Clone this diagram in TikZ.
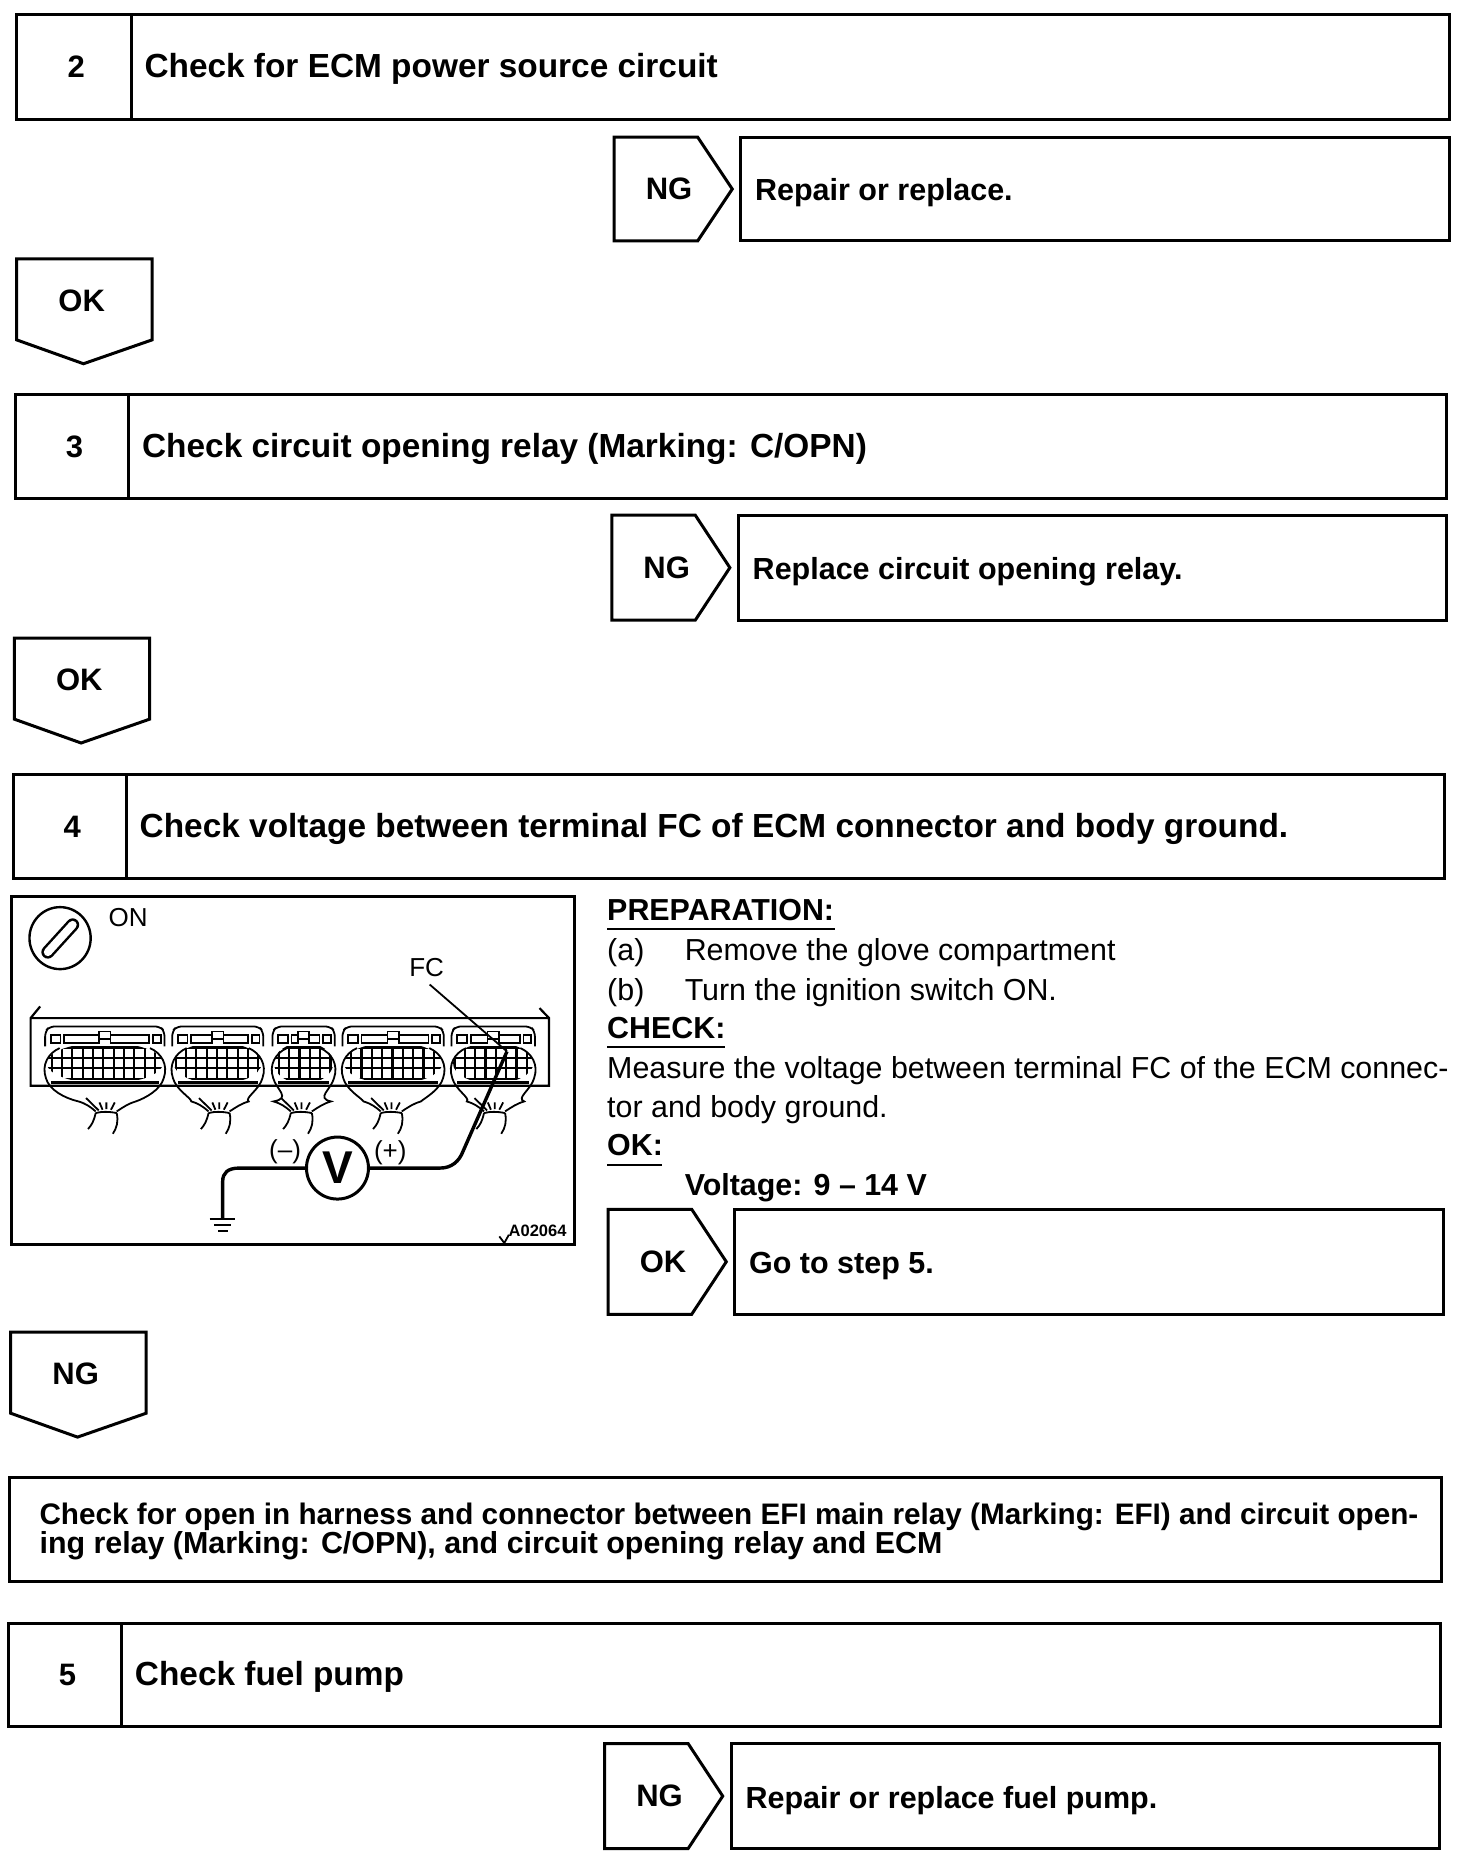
\documentclass[tikz,border=0pt]{standalone}
\usepackage{fontspec}
\setmainfont{Liberation Sans}
\tikzset{
  boxline/.style={draw=black,line width=3pt,line join=miter},
  head/.style={inner sep=0pt,anchor=base west,font=\fontsize{33.4pt}{35pt}\selectfont\bfseries},
  res/.style={inner sep=0pt,anchor=base west,font=\fontsize{30.5pt}{32pt}\selectfont\bfseries},
  longtext/.style={inner sep=0pt,anchor=base west,font=\fontsize{29.7pt}{32pt}\selectfont\bfseries},
  longtextb/.style={inner sep=0pt,anchor=base west,font=\fontsize{30.4pt}{32pt}\selectfont\bfseries},
  tag/.style={inner sep=0pt,anchor=base,font=\fontsize{31pt}{33pt}\selectfont\bfseries},
  body/.style={inner sep=0pt,anchor=base west,font=\fontsize{30.4pt}{32pt}\selectfont},
  bodyb/.style={inner sep=0pt,anchor=base west,font=\fontsize{30.4pt}{32pt}\selectfont\bfseries},
  rule/.style={draw=black,line width=1.8pt},
  figline/.style={draw=black,line width=1.8pt},
  figframe/.style={draw=black,line width=3pt},
  wire/.style={draw=black,line width=3.4pt,line join=round},
  figlabel/.style={inner sep=0pt,font=\fontsize{26pt}{28pt}\selectfont}
}
% numbered step box: name, x1, y1, x2, y2, divider, number, text
\newcommand\stepbox[8]{%
  \draw[boxline] (#2,#3) rectangle (#4,#5);
  \draw[boxline] (#6,#3) -- (#6,#5);
  \node[tag] (#1n) at ({(#2+#6)/2+2},{(#3+#5)/2+9}) {#7};
  \node[head] (#1t) at (#6+11,{(#3+#5)/2+9}) {#8};
}
% right arrow + result box: name, x1, y1, y2, label, text
\newcommand\rightres[6]{%
  \draw[boxline] (#2+70,#3) -- (#2,#3) -- (#2,#4) -- (#2+70,#4) -- (#2+99,{(#3+#4)/2}) -- cycle;
  \node[tag] (#1a) at (#2+46,{(#3+#4)/2+9}) {#5};
  \draw[boxline] (#2+106,#3) rectangle (#2+700,#4);
  \node[res] (#1t) at (#2+118,{(#3+#4)/2+10}) {#6};
}
% down arrow: name, x1, y1, label
\newcommand\downarrowbox[4]{%
  \draw[boxline] (#2,#3) -- (#2+113.5,#3) -- (#2+113.5,#3+68) -- (#2+56,#3+88) -- (#2,#3+68) -- cycle;
  \node[tag] (#1) at (#2+54.5,#3+44) {#4};
}
% ECM connector in figure coordinates: left, right, tail centre
\newcommand\conn[3]{%
  \draw[figline,rounded corners=5pt] (#1,500) -- (#1,455) -- (#1+12,440) -- (#2-12,440) -- (#2,455) -- (#2,500);
  \draw[figline] (#1+15,465) rectangle (#1+40,490);
  \draw[figline] (#1+50,465) rectangle ({(#1+#2)/2-15},490);
  \draw[figline] ({(#1+#2)/2-15},455) rectangle ({(#1+#2)/2+15},478);
  \draw[figline] ({(#1+#2)/2+15},465) rectangle (#2-40,490);
  \draw[figline] (#2-30,465) rectangle (#2-10,490);
  \begin{scope}
    \clip ({(#1+#2)/2},550) ellipse [x radius={(#2-#1)/2-4},y radius=62];
    \draw[figline,line width=2.2pt] (#1,505) grid[xstep=27,ystep=30] (#2,598);
    \draw[figline,line width=2.2pt] (#1,503) -- (#2,503) (#1,535) -- (#2,535) (#1,565) -- (#2,565) (#1,597) -- (#2,597);
  \end{scope}
  \draw[figline,line width=2.2pt] (#1+15,608) -- (#2-15,608);
  \draw[figline] (#1+38,505) .. controls (#1+8,520) and (#1-10,555) .. (#1+2,595)
     .. controls (#1+10,630) and (#1+50,655) .. (#3-75,665) .. controls (#3-55,672) and (#3-45,680) .. (#3-30,695)
     (#2-38,505) .. controls (#2-8,520) and (#2+10,555) .. (#2-2,595)
     .. controls (#2-10,630) and (#2-50,655) .. (#3+75,665) .. controls (#3+55,672) and (#3+45,680) .. (#3+25,695);
  \draw[figline] (#3-30,700) .. controls (#3-15,695) and (#3+5,695) .. (#3+25,700)
     (#3-30,700) .. controls (#3-35,725) and (#3-40,735) .. (#3-50,748)
     (#3+25,700) .. controls (#3+30,725) and (#3+25,745) .. (#3+15,762)
     (#3-22,692) -- (#3-55,655) (#3-12,690) -- (#3-20,668) (#3-2,688) -- (#3-2,668) (#3+10,690) -- (#3+20,668);
}
\begin{document}
\begin{tikzpicture}[x=1.19287pt,y=-1.19287pt]
\useasboundingbox (0,0) rectangle (1234,1568);
\stepbox{s2}{14}{12}{1215}{100}{110}{2}{Check for ECM power source circuit}
\rightres{r2}{515}{115}{202}{NG}{Repair or replace.}
\downarrowbox{d2}{14}{217}{OK}
\stepbox{s3}{13}{331}{1213}{418}{108}{3}{Check circuit opening relay (Marking: C/OPN)}
\rightres{r3}{513}{432}{520}{NG}{Replace circuit opening relay.}
\downarrowbox{d3}{12}{535}{OK}
\stepbox{s4}{11}{649}{1211}{737}{106}{4}{Check voltage between terminal FC of ECM connector and body ground.}
\rightres{r4}{510}{1014}{1102}{OK}{Go to step 5.}
\downarrowbox{d4}{9}{1117}{NG}
\draw[boxline] (8,1239) rectangle (1209,1326);
\node[longtext] (long1) at (33,1278) {Check for open in harness and connector between EFI main relay (Marking: EFI) and circuit open-};
\node[longtextb] (long2) at (33,1303) {ing relay (Marking: C/OPN), and circuit opening relay and ECM};
\stepbox{s5}{7}{1361}{1208}{1448}{102}{5}{Check fuel pump}
\rightres{r5}{507}{1462}{1550}{NG}{Repair or replace fuel pump.}
% instruction text
\node[bodyb] (prep) at (509,772) {PREPARATION:};
\draw[rule] (509,779) -- (700,779);
\node[body] (a1) at (509,805) {(a)};
\node[body] (a2) at (574,805) {Remove the glove compartment};
\node[body] (b1) at (509,839) {(b)};
\node[body] (b2) at (574,839) {Turn the ignition switch ON.};
\node[bodyb] (chk) at (509,871) {CHECK:};
\draw[rule] (509,878) -- (608,878);
\node[body] (m1) at (509,904) {Measure the voltage between terminal FC of the ECM connec-};
\node[body] (m2) at (509,937) {tor and body ground.};
\node[bodyb] (okl) at (509,969) {OK:};
\draw[rule] (509,977) -- (555,977);
\node[bodyb] (volt) at (574,1002) {Voltage: 9 – 14 V};
% figure
\begin{scope}[x=0.38270pt,y=-0.33333pt,shift={(0pt,-880pt)}]
  \draw[figframe] (30,50) rectangle (1502,1095);
  \draw[figline,line width=2.4pt] (157,175) circle [x radius=80,y radius=93];
  \draw[line width=13pt,line cap=round] (125,217) -- (190,135);
  \draw[white,line width=8pt,line cap=round] (125,217) -- (190,135);
  \node[figlabel] (on) at (335,113) {ON};
  \node[figlabel] (fc) at (1115,262) {FC};
  \coordinate (fcpin) at (1325,515);
  \draw[figline] (fc.south) ++(8,24) -- (fcpin);
  \draw[figline,line width=2.2pt] (105,380) -- (80,415) -- (80,618) -- (1435,618) -- (1435,415) -- (1410,385) (80,415) -- (1435,415);
  \conn{118}{430}{280}
  \conn{450}{688}{575}
  \conn{712}{875}{790}
  \conn{895}{1160}{1025}
  \conn{1180}{1398}{1295}
  \node[draw=black,line width=3pt,circle,minimum size=62pt,inner sep=0pt,font=\fontsize{46pt}{48pt}\selectfont\bfseries] (vm) at (882,865) {V};
  \coordinate (gnd) at (582,1018);
  \draw[wire] (vm.west) -- (625,865) .. controls (595,865) and (582,880) .. (582,905) -- (gnd);
  \draw[wire] (vm.east) -- (1150,865) .. controls (1180,865) and (1200,845) .. (1210,815) -- (fcpin);
  \draw[figline,line width=2.2pt] (548,1018) -- (615,1018) (560,1035) -- (603,1035) (570,1055) -- (595,1055);
  \node[figlabel,font=\fontsize{26pt}{28pt}\selectfont] (minus) at (745,815) {(–)};
  \node[figlabel,font=\fontsize{26pt}{28pt}\selectfont] (plus) at (1020,820) {(+)};
  \node[figlabel,font=\fontsize{16.5pt}{18pt}\selectfont\bfseries] (code) at (1405,1052) {A02064};
  \draw[figline] (1305,1070) -- (1318,1090) -- (1330,1065);
\end{scope}
\end{tikzpicture}
\end{document}
